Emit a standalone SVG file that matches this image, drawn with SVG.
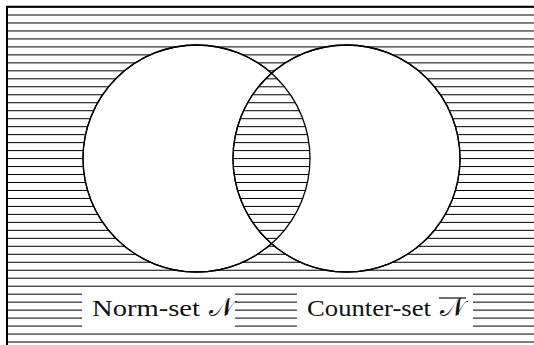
<svg xmlns="http://www.w3.org/2000/svg" width="534" height="345" viewBox="0 0 534 345">
<style>
.set{fill:#fff;stroke:#000;stroke-width:1.3}
.lbl{font-family:"Liberation Serif","DejaVu Serif",serif;font-size:23px;fill:#111}
.sym{font-family:"DejaVu Serif","DejaVu Sans",serif;font-size:26px;fill:#111}
.box{fill:#fff;stroke:none}
</style>
<defs>
<pattern id="hatch" patternUnits="userSpaceOnUse" x="0" y="14.5" width="534" height="7.976">
<rect x="0" y="0" width="534" height="1" fill="#000"/>
</pattern>
</defs>
<g id="background">
<rect x="7" y="7" width="527" height="338" fill="url(#hatch)"/>
<path d="M6 6.8H534M7 6V345" fill="none" stroke="#000" stroke-width="2"/>
</g>
<g id="norm-set"><circle class="set" cx="196.5" cy="158.5" r="113.5"/></g>
<g id="counter-set"><circle class="set" cx="346.5" cy="158.5" r="113.5"/></g>
<g id="intersection">
<path d="M271.5 73.31A113.5 113.5 0 0 1 271.5 243.69A113.5 113.5 0 0 1 271.5 73.31Z" fill="url(#hatch)"/>
<circle cx="196.5" cy="158.5" r="113.5" fill="none" stroke="#000" stroke-width="1.3"/>
<circle cx="346.5" cy="158.5" r="113.5" fill="none" stroke="#000" stroke-width="1.3"/>
</g>
<g id="label-norm">
<rect class="box" x="82" y="289" width="153" height="43"/>
<text class="lbl" x="92" y="316" textLength="108" lengthAdjust="spacingAndGlyphs">Norm-set</text>
<text class="sym" x="209" y="316">𝒩</text>
</g>
<g id="label-counter">
<rect class="box" x="297" y="289" width="176" height="43"/>
<text class="lbl" x="307" y="316" textLength="124" lengthAdjust="spacingAndGlyphs">Counter-set</text>
<text class="sym" x="440" y="316">𝒩</text>
<line x1="439" y1="298" x2="466" y2="298" stroke="#111" stroke-width="1.2"/>
</g>
</svg>
